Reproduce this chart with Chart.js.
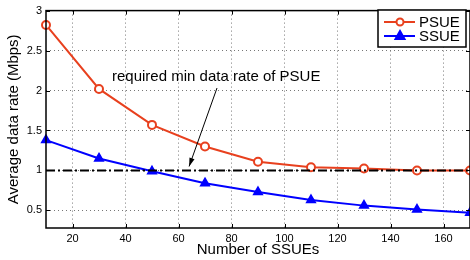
<!DOCTYPE html>
<html>
<head>
<meta charset="utf-8">
<script src="https://cdn.jsdelivr.net/npm/chart.js@4"></script>
<style>
  html, body { margin: 0; padding: 0; background: #fff; }
  #wrap { width: 470px; height: 260px; }
</style>
</head>
<body>
<div id="wrap"><canvas id="rateChart" width="470" height="260"></canvas></div>
<script>
// number of SSUEs
const ssueCounts = [10, 30, 50, 70, 90, 110, 130, 150, 170];
// average data rate (Mbps)
const psueRates = [2.82, 2.02, 1.57, 1.30, 1.11, 1.04, 1.025, 1.0, 1.0];
const ssueRates = [1.38, 1.15, 0.99, 0.84, 0.73, 0.63, 0.56, 0.51, 0.47];
// required min data rate of PSUE
const thresholdX = [10, 170];
const thresholdY = [1, 1];

const xTicks = [20, 40, 60, 80, 100, 120, 140, 160];
const yTicks = [0.5, 1, 1.5, 2, 2.5, 3];

const RED = '#e8401e';
const BLUE = '#0000ff';
const FONT = '"Liberation Sans", Arial, sans-serif';

const toPoints = (xs, ys) => xs.map((x, i) => ({ x: x, y: ys[i] }));

// frame, inward ticks, titles, annotation and legend
const decorPlugin = {
  id: 'decor',
  afterDraw(chart) {
    const { ctx, chartArea: a, scales } = chart;
    const xs = scales.x, ys = scales.y;
    ctx.save();

    // box
    ctx.strokeStyle = '#000';
    ctx.lineWidth = 1.5;
    ctx.strokeRect(a.left, a.top, a.right - a.left, a.bottom - a.top);

    // inward tick marks
    ctx.lineWidth = 1;
    ctx.beginPath();
    xTicks.forEach(v => {
      const px = Math.round(xs.getPixelForValue(v)) + 0.5;
      ctx.moveTo(px, a.bottom); ctx.lineTo(px, a.bottom - 4);
      ctx.moveTo(px, a.top); ctx.lineTo(px, a.top + 4);
    });
    yTicks.forEach(v => {
      const py = Math.round(ys.getPixelForValue(v)) + 0.5;
      ctx.moveTo(a.left, py); ctx.lineTo(a.left + 4, py);
      ctx.moveTo(a.right, py); ctx.lineTo(a.right - 4, py);
    });
    ctx.stroke();

    // axis titles
    ctx.fillStyle = '#000';
    ctx.font = '15px ' + FONT;
    ctx.textAlign = 'center';
    ctx.textBaseline = 'middle';
    ctx.fillText('Number of SSUEs', (a.left + a.right) / 2, 250);
    ctx.save();
    ctx.translate(14, (a.top + a.bottom) / 2);
    ctx.rotate(-Math.PI / 2);
    ctx.fillText('Average data rate (Mbps)', 0, 0);
    ctx.restore();

    // annotation + arrow
    ctx.textAlign = 'left';
    ctx.fillText('required min data rate of PSUE', 112, 77);
    const x1 = 217, y1 = 88;
    const x2 = xs.getPixelForValue(64), y2 = ys.getPixelForValue(1.05);
    ctx.lineWidth = 1;
    ctx.beginPath();
    ctx.moveTo(x1, y1); ctx.lineTo(x2, y2);
    ctx.stroke();
    const ang = Math.atan2(y2 - y1, x2 - x1);
    ctx.beginPath();
    ctx.moveTo(x2, y2);
    ctx.lineTo(x2 - 9 * Math.cos(ang - 0.3), y2 - 9 * Math.sin(ang - 0.3));
    ctx.lineTo(x2 - 9 * Math.cos(ang + 0.3), y2 - 9 * Math.sin(ang + 0.3));
    ctx.closePath();
    ctx.fill();

    // legend box
    const lx = 378, ly = 10, lw = 88, lh = 37;
    ctx.fillStyle = '#fff';
    ctx.fillRect(lx, ly, lw, lh);
    ctx.lineWidth = 1.5;
    ctx.strokeStyle = '#000';
    ctx.strokeRect(lx, ly, lw, lh);
    const items = [
      { label: 'PSUE', color: RED, y: 22, marker: 'circle' },
      { label: 'SSUE', color: BLUE, y: 36, marker: 'triangle' }
    ];
    items.forEach(it => {
      ctx.strokeStyle = it.color;
      ctx.fillStyle = it.color;
      ctx.lineWidth = 2;
      ctx.beginPath();
      ctx.moveTo(384, it.y); ctx.lineTo(415, it.y);
      ctx.stroke();
      ctx.beginPath();
      if (it.marker === 'circle') {
        ctx.fillStyle = '#fff';
        ctx.arc(400, it.y, 3.5, 0, Math.PI * 2);
        ctx.fill();
        ctx.stroke();
      } else {
        ctx.moveTo(400, it.y - 5);
        ctx.lineTo(404.5, it.y + 3);
        ctx.lineTo(395.5, it.y + 3);
        ctx.closePath();
        ctx.fill();
        ctx.stroke();
      }
      ctx.fillStyle = '#000';
      ctx.font = '15px ' + FONT;
      ctx.textAlign = 'left';
      ctx.fillText(it.label, 419, it.y + 1);
    });

    ctx.restore();
  }
};

const ctx = document.getElementById('rateChart').getContext('2d');
const rateChart = new Chart(ctx, {
  type: 'line',
  data: {
    datasets: [
      {
        label: 'threshold',
        data: toPoints(thresholdX, thresholdY),
        borderColor: '#000',
        borderWidth: 2,
        borderDash: [9, 3, 2, 3],
        pointRadius: 0,
        fill: false
      },
      {
        label: 'PSUE',
        data: toPoints(ssueCounts, psueRates),
        borderColor: RED,
        backgroundColor: '#fff',
        borderWidth: 2,
        pointStyle: 'circle',
        pointRadius: 4,
        pointBorderWidth: 2,
        fill: false
      },
      {
        label: 'SSUE',
        data: toPoints(ssueCounts, ssueRates),
        borderColor: BLUE,
        backgroundColor: BLUE,
        borderWidth: 2,
        pointStyle: 'triangle',
        pointRadius: 5,
        pointBorderWidth: 1.5,
        fill: false
      }
    ]
  },
  options: {
    responsive: false,
    animation: false,
    clip: false,
    layout: { autoPadding: false, padding: { top: 5, right: 0, left: 0, bottom: 0 } },
    plugins: {
      legend: { display: false },
      tooltip: { enabled: false }
    },
    scales: {
      x: {
        type: 'linear',
        min: 10,
        max: 170,
        afterBuildTicks: scale => { scale.ticks = xTicks.map(v => ({ value: v })); },
        afterFit: scale => { scale.height = 32; },
        grid: { color: '#777', lineWidth: 1, drawTicks: false },
        border: { display: false, dash: [1, 3] },
        ticks: { color: '#000', font: { family: FONT, size: 11 }, padding: 4, maxRotation: 0 }
      },
      y: {
        type: 'linear',
        min: 0.28,
        max: 3,
        afterBuildTicks: scale => { scale.ticks = yTicks.map(v => ({ value: v })); },
        afterFit: scale => { scale.width = 46; },
        grid: { color: '#777', lineWidth: 1, drawTicks: false },
        border: { display: false, dash: [1, 3] },
        ticks: {
          color: '#000',
          font: { family: FONT, size: 11 },
          padding: 4,
          callback: v => String(v)
        }
      }
    }
  },
  plugins: [decorPlugin]
});
</script>
</body>
</html>
